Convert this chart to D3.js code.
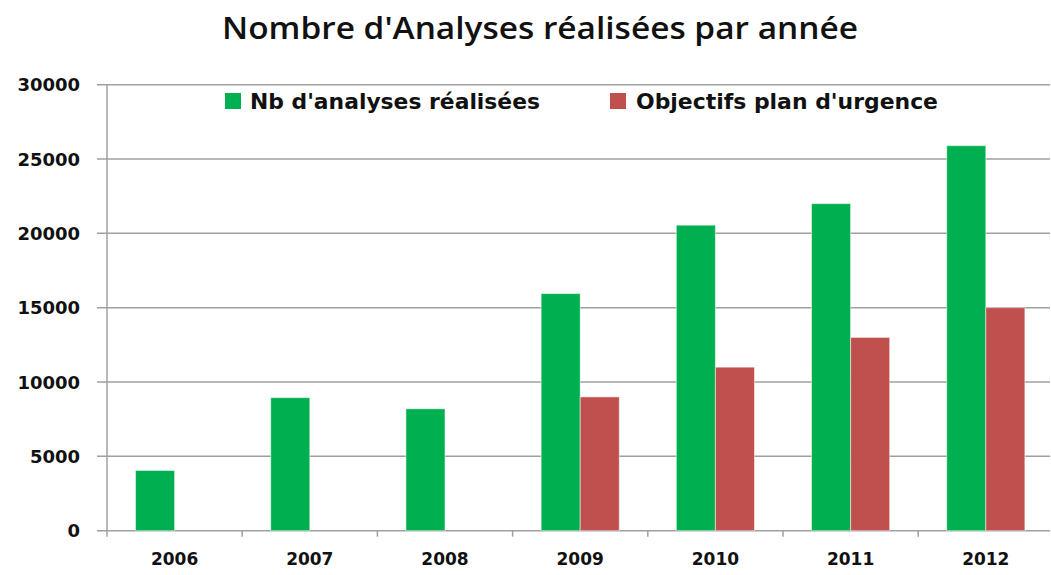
<!DOCTYPE html>
<html><head><meta charset="utf-8">
<script src="https://cdn.jsdelivr.net/npm/d3@7"></script>
<style>body{margin:0;background:#fff}</style>
</head><body>
<svg id="c" width="1051" height="575"></svg>
<script>
const years = ["2006","2007","2008","2009","2010","2011","2012"];
const analyses = [4050, 8950, 8200, 15950, 20550, 22000, 25900];
const objectifs = [null, null, null, 9000, 11000, 13000, 15000];
const yTicks = [0, 5000, 10000, 15000, 20000, 25000, 30000];
const seriesNames = ["Nb d'analyses réalisées", "Objectifs plan d'urgence"];
const colors = ["#00B050", "#C0504D"];
const title = "Nombre d'Analyses réalisées par année";

const svg = d3.select("#c");
const mLeft = 107, mRight = 1053.4, mTop = 84.7, mBottom = 530.7;

const x = d3.scaleBand().domain(years).range([mLeft, mRight]).padding(0);
const xs = d3.scaleBand().domain([0,1]).range([0, x.bandwidth()]).paddingInner(0).paddingOuter(0.73);
const y = d3.scaleLinear().domain([0, 30000]).range([mBottom, mTop]);

// gridlines
svg.append("g").selectAll("line").data(yTicks).join("line")
  .attr("x1", mLeft - 10).attr("x2", 1050)
  .attr("y1", d => y(d)).attr("y2", d => y(d))
  .attr("stroke", "#a0a0a0").attr("stroke-width", 1.5);

// y axis line
svg.append("line").attr("x1", mLeft).attr("x2", mLeft).attr("y1", mTop).attr("y2", mBottom)
  .attr("stroke", "#a0a0a0").attr("stroke-width", 1.5);

// x ticks
const xBounds = years.map(d => x(d)).concat([mRight]);
svg.append("g").selectAll("line").data(xBounds).join("line")
  .attr("x1", d => d).attr("x2", d => d).attr("y1", mBottom).attr("y2", mBottom + 6)
  .attr("stroke", "#a0a0a0").attr("stroke-width", 1.5);

// y labels
svg.append("g").selectAll("text").data(yTicks).join("text")
  .attr("x", 80).attr("y", d => y(d) + 6.5)
  .attr("text-anchor", "end")
  .attr("font-family", "DejaVu Sans").attr("font-weight", "bold").attr("font-size", 18)
  .attr("fill", "#111").text(d => d);

// x labels
svg.append("g").selectAll("text").data(years).join("text")
  .attr("x", d => x(d) + x.bandwidth() / 2).attr("y", 565)
  .attr("text-anchor", "middle")
  .attr("font-family", "DejaVu Sans").attr("font-weight", "bold").attr("font-size", 17)
  .attr("fill", "#111").text(d => d);

// bars
const series = [analyses, objectifs];
series.forEach((vals, si) => {
  svg.append("g").selectAll("rect")
    .data(years.map((yr, i) => ({yr, v: vals[i]})).filter(d => d.v != null))
    .join("rect")
    .attr("x", d => x(d.yr) + xs(si))
    .attr("width", xs.bandwidth())
    .attr("y", d => y(d.v))
    .attr("height", d => mBottom - y(d.v))
    .attr("fill", colors[si])
    .attr("stroke", "#ffffff").attr("stroke-opacity", 0.5).attr("stroke-width", 1);
});

// legend
const legX = [225, 610], legTextX = [250, 636], legW = [290, 302];
seriesNames.forEach((n, i) => {
  svg.append("rect").attr("x", legX[i]).attr("y", 93).attr("width", 16).attr("height", 16).attr("fill", colors[i]);
  svg.append("text").attr("x", legTextX[i]).attr("y", 109)
    .attr("font-family", "DejaVu Sans").attr("font-weight", "bold").attr("font-size", 21)
    .attr("textLength", legW[i]).attr("lengthAdjust", "spacingAndGlyphs")
    .attr("fill", "#111").text(n);
});

// title
svg.append("text").attr("x", 222).attr("y", 39)
  .attr("font-family", "Open Sans").attr("font-weight", 600).attr("font-size", 31)
  .attr("textLength", 636).attr("lengthAdjust", "spacingAndGlyphs")
  .attr("fill", "#111").text(title);
</script>
</body></html>
